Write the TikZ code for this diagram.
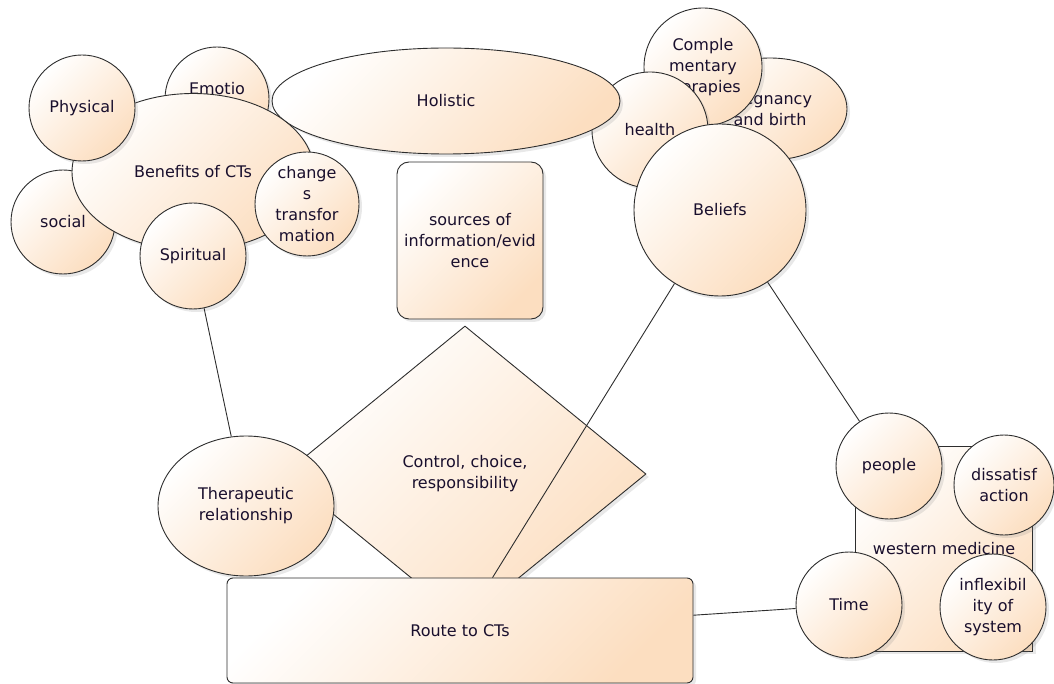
\documentclass[tikz,border=0pt]{standalone}
\usepackage{fontspec}
\setmainfont{DejaVu Sans}
\usepackage{tikz}
\usetikzlibrary{shapes.geometric,shadows}
\definecolor{peach}{RGB}{252,222,192}
\definecolor{edge}{RGB}{45,45,45}
\definecolor{ink}{RGB}{25,15,45}

\begin{document}
\begin{tikzpicture}[x=1pt, y=-1pt,
  every node/.style={font=\fontsize{16}{21}\selectfont, text=ink, align=center, inner sep=0pt},
  blob/.style={draw=edge, line width=0.9pt, top color=white, bottom color=peach, shading angle=45,
    drop shadow={shadow xshift=3pt, shadow yshift=-3pt, opacity=0.18}},
  bubble/.style={blob, circle, minimum size=#1}, bubble/.default=106pt,
  oval/.style={blob, ellipse},
  link/.style={draw=edge, line width=0.9pt}]
\useasboundingbox (0,0) rectangle (1054,684);
%\draw[very thin,color=gray] (0,0) grid[step=50] (1054,684);

% bottom middle
\node[blob, diamond, minimum width=362pt, minimum height=296pt] (ctrl) at (465,474) {Control, choice,\\responsibility};
\node[oval, minimum width=176pt, minimum height=140pt] (ther) at (246,506) {Therapeutic\\relationship};
\node[blob, rounded corners=6pt, minimum width=466pt, minimum height=105pt] (route) at (460,630.5) {Route to CTs};

% top right
\node[oval, minimum width=154pt, minimum height=102pt] (preg) at (770,109) {Pregnancy\\and birth};
\node[bubble=118pt] (comp) at (703,67) {Comple\\mentary\\therapies};
\node[bubble=116pt] (hlt) at (650,130) {health};

% top left
\node[oval, minimum width=348pt, minimum height=106pt] (hol) at (446,101) {Holistic};
\node[bubble=104pt] (emo) at (217,99) {Emotio\\\phantom{nal}};
\node[bubble=104pt] (soc) at (63,222) {social};
\node[oval, minimum width=242pt, minimum height=157pt] (ben) at (193,172) {\raisebox{-5pt}{Benefits of CTs}};
\node[bubble] (phy) at (82,108) {Physical};
\node[bubble] (spi) at (193,256) {Spiritual};
\node[bubble=104pt] (chg) at (307,204) {change\\s\\transfor\\mation};

\node[blob, rounded corners=12pt, minimum width=146pt, minimum height=157pt] (src) at (470,240.5) {sources of\\information/evid\\ence};
\node[bubble=172pt] (bel) at (720,210) {Beliefs};

% bottom right
\node[blob, minimum width=177pt, minimum height=205pt] (wm) at (944,548.5) {western medicine};
\node[bubble] (ppl) at (889,466) {people};
\node[bubble=100pt] (dis) at (1004,485) {dissatisf\\action};
\node[bubble] (tim) at (849,605) {Time};
\node[bubble] (inf) at (993,607) {inflexibil\\ity of\\system};

\draw[link] (spi) -- (ther);
\draw[link] (bel) -- (route);
\draw[link] (bel) -- (ppl);
\draw[link] (route) -- (tim);

\end{tikzpicture}
\end{document}
